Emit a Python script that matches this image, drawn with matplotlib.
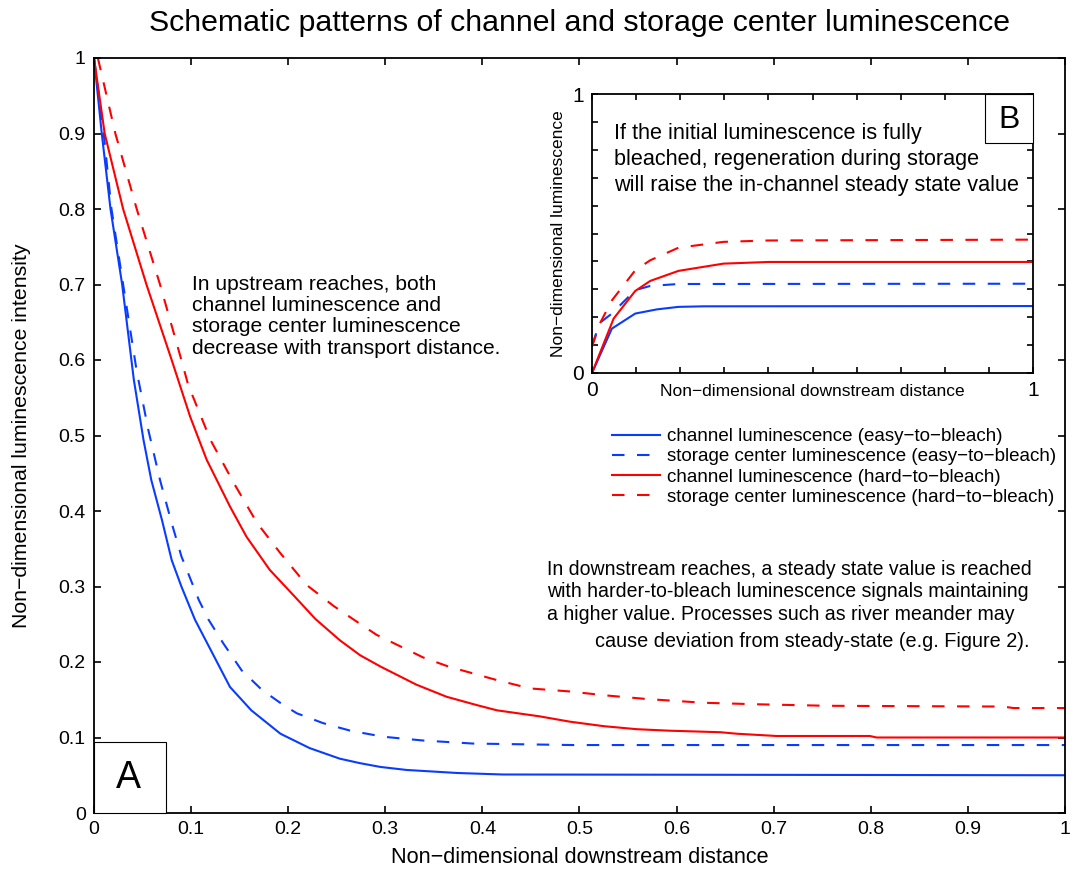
import matplotlib
matplotlib.use("Agg")
import matplotlib.pyplot as plt
from matplotlib.patches import Rectangle

plt.rcParams['font.family'] = ['Liberation Sans', 'DejaVu Sans']

# ---------------- data: main panel (A) ----------------
x_ch_easy = [0, 0.008, 0.017, 0.029, 0.041, 0.051, 0.059, 0.070, 0.080, 0.090, 0.104,
             0.140, 0.162, 0.192, 0.222, 0.253, 0.274, 0.295, 0.322, 0.374, 0.421, 1.0]
y_ch_easy = [1.0, 0.9, 0.8, 0.7, 0.574, 0.494, 0.441, 0.388, 0.335, 0.300, 0.256,
             0.167, 0.136, 0.105, 0.086, 0.072, 0.066, 0.061, 0.057, 0.053, 0.051, 0.050]

x_st_easy = [0, 0.010, 0.018, 0.030, 0.044, 0.056, 0.068, 0.080, 0.090, 0.108, 0.118,
             0.133, 0.152, 0.173, 0.195, 0.209, 0.236, 0.264, 0.298, 0.339, 0.390, 0.493, 1.0]
y_st_easy = [1.0, 0.9, 0.8, 0.7, 0.585, 0.507, 0.441, 0.384, 0.340, 0.282, 0.256,
             0.225, 0.189, 0.163, 0.143, 0.132, 0.119, 0.109, 0.101, 0.096, 0.092, 0.090, 0.090]

x_ch_hard = [0, 0.011, 0.030, 0.054, 0.080, 0.099, 0.116, 0.140, 0.157, 0.181, 0.205,
             0.228, 0.253, 0.274, 0.295, 0.332, 0.363, 0.394, 0.415, 0.459, 0.490, 0.525,
             0.559, 0.593, 0.645, 0.662, 0.703, 0.799, 0.806, 1.0]
y_ch_hard = [1.0, 0.9, 0.8, 0.7, 0.6, 0.525, 0.468, 0.406, 0.366, 0.322, 0.289,
             0.257, 0.229, 0.209, 0.194, 0.170, 0.154, 0.143, 0.136, 0.128, 0.121, 0.115,
             0.111, 0.109, 0.107, 0.105, 0.102, 0.102, 0.100, 0.100]

x_st_hard = [0.004, 0.022, 0.044, 0.068, 0.090, 0.097, 0.120, 0.144, 0.168, 0.192, 0.219,
             0.247, 0.270, 0.291, 0.339, 0.365, 0.415, 0.449, 0.490, 0.525, 0.569, 0.628,
             0.683, 0.755, 0.936, 0.947, 1.0]
y_st_hard = [1.0, 0.9, 0.8, 0.7, 0.6, 0.567, 0.494, 0.437, 0.384, 0.344, 0.302,
             0.274, 0.254, 0.236, 0.206, 0.194, 0.176, 0.165, 0.161, 0.156, 0.151, 0.146,
             0.144, 0.142, 0.141, 0.139, 0.139]

# ---------------- data: inset panel (B) ----------------
xb_ch_easy = [0, 0.045, 0.098, 0.147, 0.196, 0.253, 1.0]
yb_ch_easy = [0, 0.159, 0.213, 0.228, 0.237, 0.239, 0.240]

xb_st_easy = [0, 0.018, 0.045, 0.098, 0.132, 0.196, 1.0]
yb_st_easy = [0.10, 0.18, 0.213, 0.297, 0.312, 0.319, 0.320]

xb_ch_hard = [0, 0.049, 0.098, 0.132, 0.196, 0.298, 0.40, 1.0]
yb_ch_hard = [0, 0.195, 0.294, 0.330, 0.366, 0.392, 0.398, 0.398]

xb_st_hard = [0, 0.018, 0.045, 0.098, 0.132, 0.196, 0.298, 0.40, 1.0]
yb_st_hard = [0.094, 0.178, 0.26, 0.368, 0.404, 0.449, 0.470, 0.475, 0.478]

main_ticks = [0, 0.1, 0.2, 0.3, 0.4, 0.5, 0.6, 0.7, 0.8, 0.9, 1.0]
main_tick_labels = ['0', '0.1', '0.2', '0.3', '0.4', '0.5', '0.6', '0.7', '0.8', '0.9', '1']
inset_tick_labels = ['0', '', '', '', '', '', '', '', '', '', '1']

legend_labels = ['channel luminescence (easy\u2212to\u2212bleach)',
                 'storage center luminescence (easy\u2212to\u2212bleach)',
                 'channel luminescence (hard\u2212to\u2212bleach)',
                 'storage center luminescence (hard\u2212to\u2212bleach)']

inset_note_lines = ['If the initial luminescence is fully',
                    'bleached, regeneration during storage',
                    'will raise the in-channel steady state value']

BLUE = '#0a3cff'
RED = '#ff0000'
LW = 1.5
DASH = (6, 6)

W, H = 1081, 875
fig = plt.figure(figsize=(W / 100, H / 100), dpi=100)

# main axes
ax = fig.add_axes([94 / W, (H - 813) / H, 971 / W, 755 / H])
l1, = ax.plot(x_ch_easy, y_ch_easy, color=BLUE, lw=LW)
l2, = ax.plot(x_st_easy, y_st_easy, color=BLUE, lw=LW, ls='--', dashes=DASH)
l3, = ax.plot(x_ch_hard, y_ch_hard, color=RED, lw=LW)
l4, = ax.plot(x_st_hard, y_st_hard, color=RED, lw=LW, ls='--', dashes=DASH)
ax.set_xlim(0, 1)
ax.set_ylim(0, 1)
ax.set_xticks(main_ticks)
ax.set_xticklabels(main_tick_labels)
ax.set_yticks(main_ticks)
ax.set_yticklabels(main_tick_labels)
ax.tick_params(direction='in', length=5, width=1.2, top=True, right=True,
               labelsize=14, pad=6)
for s in ax.spines.values():
    s.set_linewidth(1.3)
ax.set_xlabel('Non\u2212dimensional downstream distance', fontsize=15.6)
ax.set_ylabel('Non\u2212dimensional luminescence intensity', fontsize=15.3)
ax.xaxis.set_label_coords(0.5, -0.0596)
ax.xaxis.label.set_va('center')
ax.yaxis.set_label_coords(-0.0742, 0.5)
ax.yaxis.label.set_va('center')
fig.text(579.5 / W, (H - 23) / H,
         'Schematic patterns of channel and storage center luminescence',
         fontsize=21.8, ha='center', va='center')

ax.text(0.1006, 0.658,
        'In upstream reaches, both\nchannel luminescence and\n'
        'storage center luminescence\ndecrease with transport distance.',
        ha='left', va='center', fontsize=15.1, linespacing=1.15)
ax.text(0.4665, 0.293,
        'In downstream reaches, a steady state value is reached\n'
        'with harder-to-bleach luminescence signals maintaining\n'
        'a higher value. Processes such as river meander may',
        ha='left', va='center', fontsize=14.05, linespacing=1.24)
ax.text(0.963, 0.2269, 'cause deviation from steady-state (e.g. Figure 2).',
        ha='right', va='center', fontsize=14.3)

ax.add_patch(Rectangle((0, 0), 0.0741, 0.094, transform=ax.transAxes,
                       facecolor='white', edgecolor='black', lw=0.8, zorder=5,
                       clip_on=False))
ax.text(0.035, 0.0464, 'A', transform=ax.transAxes, fontsize=27,
        ha='center', va='center', zorder=6)

fig.legend([l1, l2, l3, l4], legend_labels, loc='upper left',
           bbox_to_anchor=(612 / W, (H - 428) / H), frameon=False,
           fontsize=13.5, handlelength=2.57, handletextpad=0.38,
           labelspacing=0.17, borderpad=0, borderaxespad=0)

# inset axes
axi = fig.add_axes([592 / W, (H - 373) / H, 441 / W, 279 / H])
axi.set_facecolor('white')
axi.plot(xb_ch_easy, yb_ch_easy, color=BLUE, lw=LW)
axi.plot(xb_st_easy, yb_st_easy, color=BLUE, lw=LW, ls='--', dashes=DASH)
axi.plot(xb_ch_hard, yb_ch_hard, color=RED, lw=LW)
axi.plot(xb_st_hard, yb_st_hard, color=RED, lw=LW, ls='--', dashes=DASH)
axi.set_xlim(0, 1)
axi.set_ylim(0, 1)
axi.set_xticks(main_ticks)
axi.set_xticklabels(inset_tick_labels)
axi.set_yticks(main_ticks)
axi.set_yticklabels(inset_tick_labels)
axi.tick_params(direction='in', length=4.5, width=1.2, top=True, right=True,
                labelsize=15, pad=6)
for s in axi.spines.values():
    s.set_linewidth(1.3)
axi.set_xlabel('Non\u2212dimensional downstream distance', fontsize=12.5)
axi.set_ylabel('Non\u2212dimensional luminescence', fontsize=12.5)
axi.xaxis.set_label_coords(0.5, -0.067)
axi.xaxis.label.set_va('center')
axi.yaxis.set_label_coords(-0.077, 0.5)
axi.yaxis.label.set_va('center')
for line, yy in zip(inset_note_lines, [0.857, 0.765, 0.672]):
    axi.text(0.05, yy, line, ha='left', va='center', fontsize=15.6)
axi.add_patch(Rectangle((0.891, 0.823), 0.109, 0.177, transform=axi.transAxes,
                        facecolor='white', edgecolor='black', lw=0.8, zorder=5,
                        clip_on=False))
axi.text(0.9456, 0.907, 'B', transform=axi.transAxes, fontsize=23,
         ha='center', va='center', zorder=6)

fig.savefig('out.png', dpi=100)
